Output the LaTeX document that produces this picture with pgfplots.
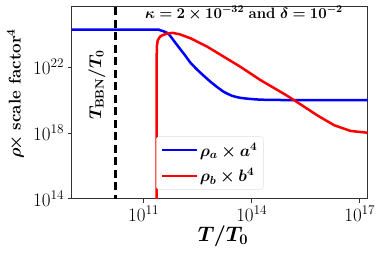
\RequirePackage{fix-cm}
\documentclass[border=0pt]{standalone}
\usepackage{bm}
\usepackage{pgfplots}
\pgfplotsset{compat=1.18}
\pgfplotsset{my legend line/.style={legend image code/.code={\draw[##1] (0pt,0pt) -- (35pt,0pt);}}}
\begin{document}
\begin{tikzpicture}
\begin{axis}[name=ax,
 scale only axis, width=296pt, height=192.7pt,
 xmode=log, ymode=log,
 xmin=1e9, xmax=1.66e17, ymin=1e14, ymax=5e25,
 xtick={1e11,1e14,1e17}, ytick={1e14,1e18,1e22},
 minor tick num=0,
 tick align=outside, xtick pos=left, ytick pos=left,
 major tick length=4pt,
 tick style={black!80, line width=0.6pt},
 axis line style={black!80, line width=0.8pt},
 ticklabel style={font=\fontsize{19}{21}\selectfont},
 xlabel={$\bm{T/T_0}$},
 xlabel style={font=\fontsize{21}{23}\selectfont, at={(axis description cs:0.511,-0.196)}, anchor=center},
 ylabel={$\bm{\rho\!\times}$ \textbf{scale factor}$^{\bm{4}}$},
 ylabel style={font=\fontsize{17}{19}\selectfont, at={(axis description cs:-0.19,0.546)}, anchor=center},
 legend style={at={(0.285,0.047)}, anchor=south west, draw=black!12, rounded corners=3pt, fill=white, font=\fontsize{16.5}{18}\selectfont, inner xsep=4pt, inner ysep=4pt, row sep=7pt},
 legend cell align=left,
 my legend line,
]
\addplot[blue, line width=2.5pt, smooth, tension=0.4] coordinates {
(1e9,1.86e24) (2.0e11,1.86e24) (2.51e11,1.82e24) (3.16e11,1.58e24) (3.98e11,1.32e24)
(5.01e11,9.55e23) (7.08e11,3.55e23) (1e12,1.32e23) (1.41e12,5.01e22) (2.0e12,1.78e22)
(3.16e12,6.31e21) (5.01e12,2.51e21) (7.24e12,1.23e21) (1.12e13,5.75e20) (1.70e13,3.02e20)
(2.82e13,1.78e20) (4.90e13,1.32e20) (1e14,1.12e20) (2.0e14,1.02e20) (1e15,9.77e19) (2e17,9.77e19)
};
\addlegendentry{$\bm{\rho_a\times a^4}$}
\addplot[red, line width=2.5pt] coordinates {
(2.26e11,1e10) (2.29e11,1e20) (2.30e11,6.76e22) (2.33e11,1.9e23) (2.45e11,4.17e23)
(2.82e11,6.76e23) (3.31e11,8.51e23) (4.57e11,1.07e24) (6.31e11,1.17e24) (1e12,9.55e23)
(2.04e12,5.37e23) (5.89e12,1.66e23) (1.70e13,4.07e22) (4.90e13,1e22) (1.78e14,1.55e21)
(7.94e14,2.29e20) (1.51e15,9.55e19) (6.61e15,1.15e19) (1.95e16,2.88e18) (5.62e16,1.29e18) (1.74e17,1.0e18)
};
\addlegendentry{$\bm{\rho_b\times b^4}$}
\addplot[black, line width=2.8pt, dash pattern=on 8pt off 4.5pt, forget plot] coordinates {(1.62e10,1e13) (1.62e10,1e26)};
\node[rotate=90, font=\fontsize{17}{19}\selectfont] at (axis description cs:0.0848,0.59) {$\bm{T_{\mathrm{BBN}}/T_0}$};
\node[font=\fontsize{15}{17}\selectfont] at (axis description cs:0.582,0.964) {$\bm{\kappa = 2\times10^{-32}}$ \textbf{and} $\bm{\delta=10^{-2}}$};
\end{axis}
\path (ax.south west) ++(-71.7pt,-56.3pt) rectangle ++(382pt,255pt);
\end{tikzpicture}
\end{document}
